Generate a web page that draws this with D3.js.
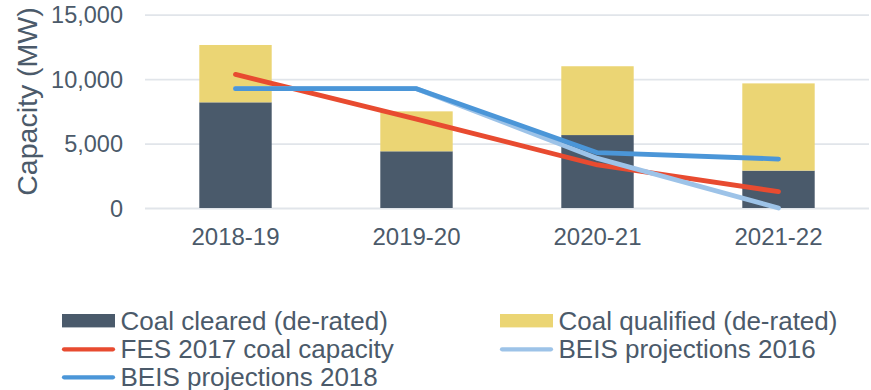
<!DOCTYPE html>
<html>
<head>
<meta charset="utf-8">
<script src="https://cdn.jsdelivr.net/npm/d3@7"></script>
<style>
  html, body { margin: 0; padding: 0; background: #ffffff; }
  svg { display: block; }
  text { font-family: "Liberation Sans", Arial, sans-serif; fill: #4b5a6a; }
</style>
</head>
<body>
<svg id="chart" width="871" height="390"></svg>
<script>
// Capacity market: coal capacity by delivery year (MW)
const years = ["2018-19", "2019-20", "2020-21", "2021-22"];
const coalCleared = [8200, 4400, 5660, 2900];
// qualified capacity above the cleared amount (stacked on top)
const coalQualifiedExtra = [4450, 3100, 5340, 6770];
const fes2017 = [10370, 6900, 3340, 1270];
const beis2016 = [9260, 9260, 3850, 0];
const beis2018 = [9260, 9260, 4290, 3800];
const yTicks = [0, 5000, 10000, 15000];

const colors = {
  cleared: "#4a5a6b",
  qualified: "#ebd574",
  fes: "#e84b30",
  beis16: "#9dc3e8",
  beis18: "#4b96d8",
  grid: "#e1e5ea"
};

const svg = d3.select("#chart");
const plotLeft = 145, plotRight = 869, plotTop = 14.7, plotBottom = 208;

const x = d3.scaleBand().domain(years).range([plotLeft, plotRight])
  .paddingInner(0.6).paddingOuter(0.3);
const y = d3.scaleLinear().domain([0, 15000]).range([plotBottom, plotTop]);

// gridlines + tick labels
const yAxis = d3.axisLeft(y).tickValues(yTicks).tickFormat(d3.format(","))
  .tickSize(-(plotRight - plotLeft)).tickPadding(22);
const gy = svg.append("g").attr("transform", `translate(${plotLeft},0)`).call(yAxis);
gy.select(".domain").remove();
gy.selectAll(".tick line").attr("stroke", colors.grid).attr("stroke-width", 1.8);
gy.selectAll(".tick text").attr("font-size", 23.5).attr("dy", "0.35em")
  .style("fill", "#4b5a6a").attr("font-family", "Liberation Sans, Arial, sans-serif");

// category labels
const xAxis = d3.axisBottom(x).tickSize(0).tickPadding(20);
const gx = svg.append("g").attr("transform", `translate(0,${plotBottom})`).call(xAxis);
gx.select(".domain").remove();
gx.selectAll(".tick text").attr("font-size", 24).attr("dy", "0.71em")
  .attr("y", 19.5).style("fill", "#4b5a6a")
  .attr("font-family", "Liberation Sans, Arial, sans-serif");

// stacked bars
const rows = years.map((yr, i) => ({ year: yr, cleared: coalCleared[i], qualified: coalQualifiedExtra[i] }));
const stack = d3.stack().keys(["cleared", "qualified"])(rows);
svg.append("g").selectAll("g").data(stack).join("g")
  .attr("fill", d => colors[d.key])
  .selectAll("rect").data(d => d).join("rect")
  .attr("x", d => x(d.data.year))
  .attr("width", x.bandwidth())
  .attr("y", d => y(d[1]))
  .attr("height", d => y(d[0]) - y(d[1]));

// projection lines
const line = d3.line()
  .x((d, i) => x(years[i]) + x.bandwidth() / 2)
  .y(d => y(d));
const series = [
  { values: fes2017, color: colors.fes },
  { values: beis2016, color: colors.beis16 },
  { values: beis2018, color: colors.beis18 }
];
svg.append("g").selectAll("path").data(series).join("path")
  .attr("d", d => line(d.values))
  .attr("fill", "none")
  .attr("stroke", d => d.color)
  .attr("stroke-width", 4.8)
  .attr("stroke-linecap", "round")
  .attr("stroke-linejoin", "round");

// y-axis title
svg.append("text")
  .attr("transform", "translate(37,101.5) rotate(-90)")
  .attr("text-anchor", "middle")
  .attr("font-size", 28.5)
  .text("Capacity (MW)");

// legend
const legendNames = ["Coal cleared (de-rated)", "Coal qualified (de-rated)", "FES 2017 coal capacity", "BEIS projections 2016", "BEIS projections 2018"];
const legendKinds = ["rect", "rect", "line", "line", "line"];
const legendColors = [colors.cleared, colors.qualified, colors.fes, colors.beis16, colors.beis18];
const colX = [62, 500], rowY = [320.7, 349.3, 377.3];
const lg = svg.append("g");
legendNames.forEach((name, i) => {
  const cx = colX[i % 2], cy = rowY[Math.floor(i / 2)];
  if (legendKinds[i] === "rect") {
    lg.append("rect").attr("x", cx).attr("y", cy - 6.7).attr("width", 53).attr("height", 13.4)
      .attr("fill", legendColors[i]);
  } else {
    lg.append("line").attr("x1", cx + 2).attr("x2", cx + 51).attr("y1", cy).attr("y2", cy)
      .attr("stroke", legendColors[i]).attr("stroke-width", 4.2).attr("stroke-linecap", "round");
  }
  lg.append("text").attr("x", cx + 58.5).attr("y", cy + 8.9)
    .attr("font-size", 26).text(name);
});
</script>
</body>
</html>
